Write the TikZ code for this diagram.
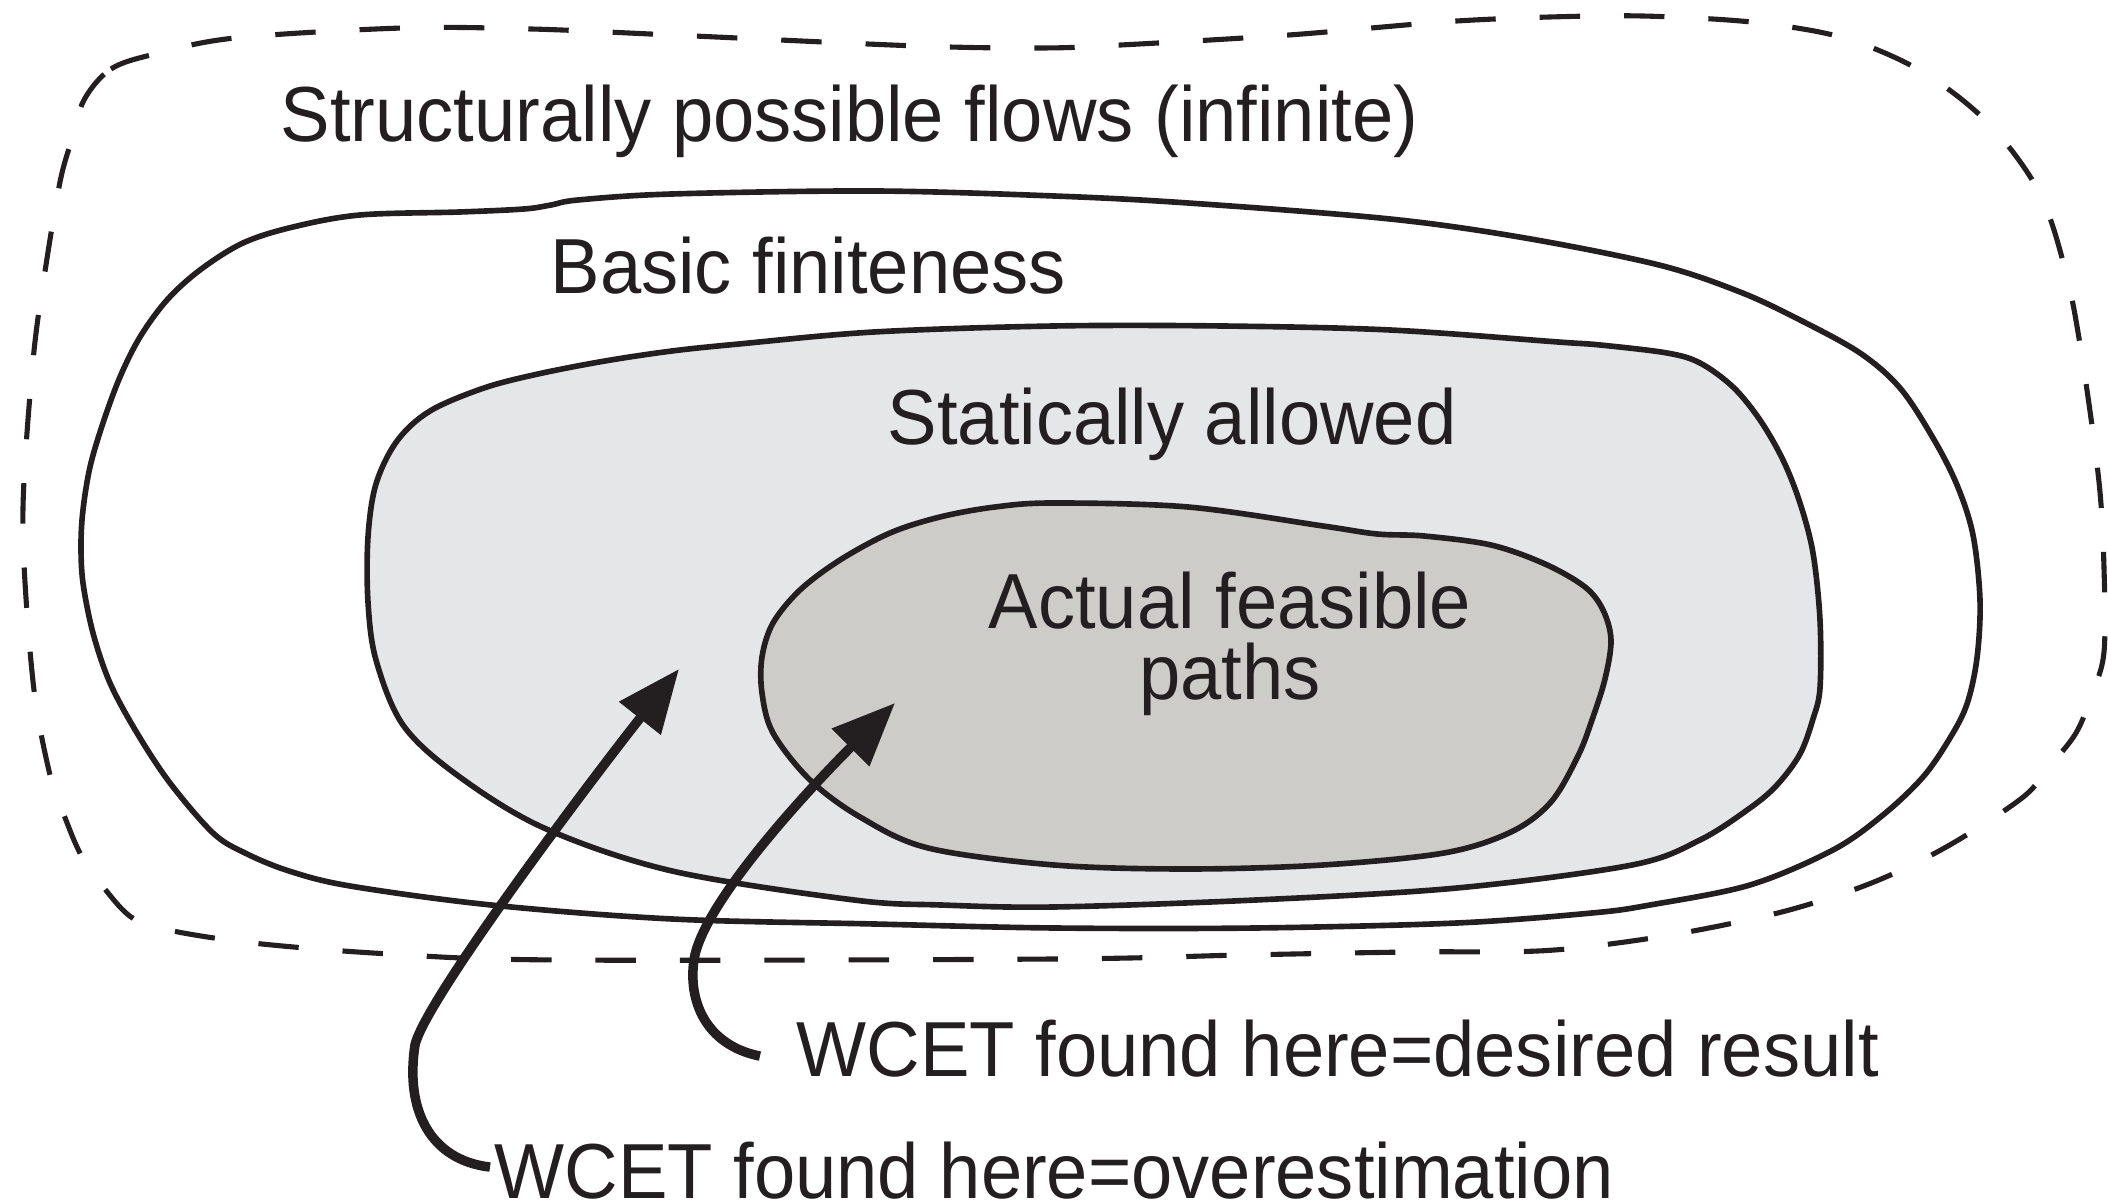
\documentclass[tikz,border=0pt]{standalone}
\usepackage{fontspec}
\setmainfont[FakeStretch=0.95]{Liberation Sans}
\usetikzlibrary{arrows.meta}
\definecolor{ink}{HTML}{231F20}
\definecolor{statfill}{HTML}{E5E6E8}
\definecolor{actfill}{HTML}{CDCCC8}
\begin{document}
\begin{tikzpicture}[x=0.01cm,y=-0.01cm,
  outline/.style={draw=ink, line width=1.6pt, line join=round},
  dashedline/.style={draw=ink, line width=1.45pt, dash pattern=on 11.5pt off 12.5pt},
  lbl/.style={text=ink, inner sep=0pt, font=\fontsize{22.2pt}{22pt}\selectfont},
  pointer/.style={draw=ink, line width=2.7pt, -{Triangle[length=6.3mm, width=5.1mm]}}
]
\useasboundingbox (0,0) rectangle (2108,1204);

% outer dashed region
\draw[dashedline] plot[smooth cycle, tension=0.55] coordinates {
 (84,100) (111,69) (155,54) (235,38) (403,28) (531,29) (672,35) (917,46) (1042,48)
 (1121,45) (1289,35) (1457,21) (1592,16) (1672,17) (1760,23) (1844,38) (1921,71)
 (1988,123) (2039,192) (2066,273) (2082,357) (2099,482) (2104,568) (2104,652)
 (2092,694) (2076,733) (2049,767) (2022,798) (1948,846) (1874,882) (1793,909)
 (1709,928) (1625,942) (1538,951) (1410,952) (1242,955) (1054,959) (558,960)
 (390,954) (262,944) (178,932) (134,919) (104,888) (81,855) (64,815) (50,775)
 (34,690) (24,564) (24,480) (34,351) (46,265) (60,182) (71,142)};

% basic finiteness
\draw[outline, fill=white] plot[smooth cycle, tension=0.55] coordinates {
 (551,205) (578,200) (672,194) (874,191) (1054,196) (1188,203) (1390,219) (1525,238)
 (1659,265) (1740,292) (1800,320) (1860,353) (1900,388) (1933,438) (1957,485) (1973,535)
 (1980,600) (1977,658) (1967,704) (1950,738) (1923,777) (1883,815) (1833,850)
 (1750,885) (1650,905) (1592,913) (1457,923) (1256,928) (1054,928) (874,924)
 (672,919) (491,905) (350,886) (289,871) (245,853) (213,833) (170,783) (137,733)
 (110,683) (93,633) (83,583) (81,545) (83,510) (90,467) (103,423) (120,377)
 (140,337) (167,300) (200,270) (243,243) (293,227) (360,215) (460,212) (524,209)};

% statically allowed
\draw[outline, fill=statfill] plot[smooth cycle, tension=0.55] coordinates {
 (1054,326) (1222,326) (1390,330) (1558,342) (1600,345) (1667,353) (1700,363)
 (1733,387) (1760,420) (1783,460) (1800,503) (1813,553) (1820,620) (1820,688)
 (1813,719) (1800,754) (1777,785) (1750,808) (1700,840) (1632,865) (1457,888)
 (1256,900) (1054,907) (941,905) (854,900) (672,871) (544,828) (457,775) (403,725)
 (376,660) (368,602) (368,537) (376,484) (397,441) (430,411) (484,388) (538,374)
 (605,361) (672,351) (739,344) (874,332)};

% actual feasible paths
\draw[outline, fill=actfill] plot[smooth cycle, tension=0.55] coordinates {
 (1054,503) (1188,507) (1323,526) (1377,534) (1424,536) (1491,545) (1545,564)
 (1585,587) (1603,610) (1611,640) (1605,679) (1592,720) (1578,756) (1551,802)
 (1511,832) (1444,853) (1323,865) (1188,869) (1054,865) (928,848) (860,817)
 (810,780) (773,733) (762,693) (762,657) (773,623) (800,590) (840,560) (890,533)
 (940,517) (995,507)};

% labels
\node[lbl, anchor=base west] (struct) at (280,142) {Structurally possible flows (infinite)};
\node[lbl, anchor=base west] (basic) at (550,294) {Basic finiteness};
\node[lbl, anchor=base west] (stat) at (887,445) {Statically allowed};
\node[lbl, anchor=base] (act1) at (1230,629) {Actual feasible};
\node[lbl, anchor=base] (act2) at (1230,700) {paths};
\node[lbl, anchor=base west] (desired) at (796,1077) {WCET found here=desired result};
\node[lbl, anchor=base west] (over) at (494,1199) {WCET found here=overestimation};

% arrow tips
\coordinate (tipover) at (679,669);
\coordinate (tipdes) at (895,703);

% arrows
\draw[pointer] ([xshift=-0.04cm,yshift=0.04cm]over.west) .. controls (430,1160) and (405,1110) .. (415,1045)
  .. controls (425,1000) and (595,775) .. (tipover);
\draw[pointer] ([xshift=-0.36cm,yshift=-0.07cm]desired.west) .. controls (705,1045) and (688,1000) .. (694,960)
  .. controls (702,905) and (804,794) .. (tipdes);
\end{tikzpicture}
\end{document}
